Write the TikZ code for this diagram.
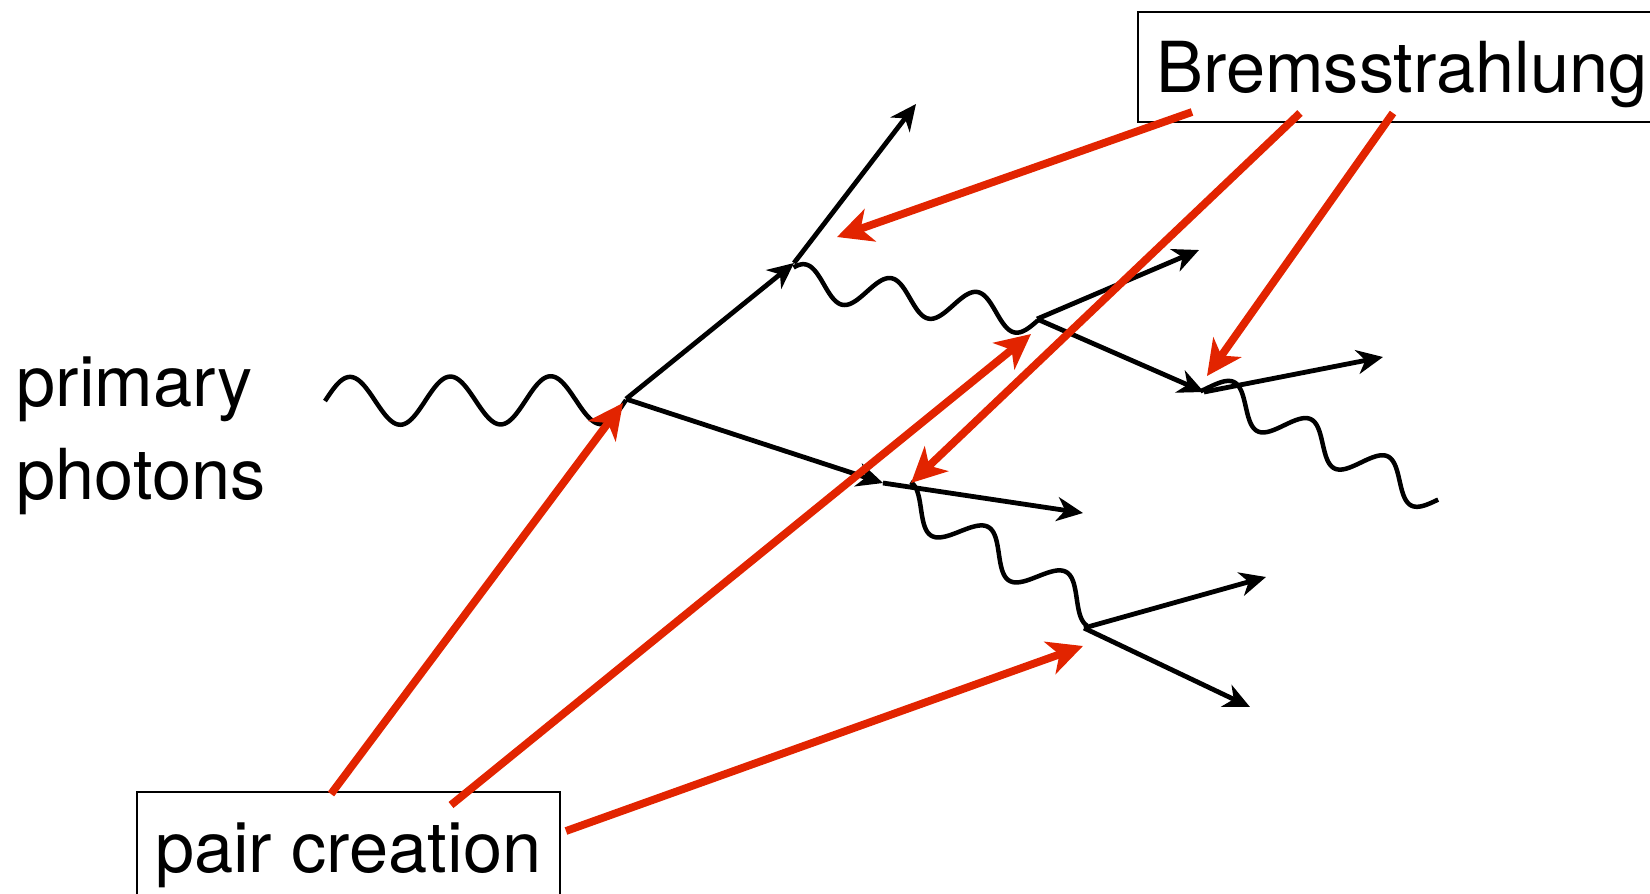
\documentclass[tikz,border=0pt]{standalone}
\usepackage{fontspec}
\setmainfont{TeX Gyre Heros}
\usetikzlibrary{arrows.meta,calc}
\definecolor{redarrow}{RGB}{226,36,0}
% photon: from, to, amplitude (pt), cycles, phase (deg)
\newcommand{\drawphoton}[5]{%
  \draw[photonline] let \p1=($(#2)-(#1)$), \n1={atan2(\y1,\x1)}, \n2={veclen(\x1,\y1)} in
  {[shift={(#1)}, rotate=\n1, x=1pt, y=1pt]
   plot[domain=0:\n2, samples=160, smooth, variable=\wt] (\wt, {#3*sin(#5+360*#4*(\wt/\n2))})};}
\begin{document}
\begin{tikzpicture}[x=0.01cm, y=-0.01cm,
  elec/.style={line width=0.048cm, -{Stealth[length=0.26cm,width=0.24cm,inset=0.08cm]}},
  photonline/.style={line width=0.045cm},
  redarr/.style={color=redarrow, line width=0.078cm, -{Stealth[length=0.35cm,width=0.34cm,inset=0.1cm]}},
  labelbox/.style={draw, line width=0.02cm, inner xsep=0.185cm, inner ysep=0.3cm, text height=0.5cm, text depth=0cm, font=\fontsize{20pt}{24pt}\selectfont},
]
\useasboundingbox (0,0) rectangle (1650,893);
\clip (0,0) rectangle (1650,893);

% labels
\node[labelbox, anchor=base west] (brems) at (1137,92) {Bremsstrahlung};
\node[labelbox, anchor=base west] (pair) at (135.5,872) {pair creation};
\node[font=\fontsize{20pt}{26.5pt}\selectfont, align=left, inner sep=0pt, anchor=west] (primary) at (16,436) {primary\\photons};

% vertices and free ends
\coordinate (V1) at (626,399);
\coordinate (V2) at (794,263);
\coordinate (T2) at (916,104);
\coordinate (V3) at (883,483);
\coordinate (T4) at (1083,513);
\coordinate (V4) at (1037,319);
\coordinate (T5) at (1199,250);
\coordinate (V6) at (1204,392);
\coordinate (T7) at (1383,357);
\coordinate (V5) at (1084,628);
\coordinate (T8) at (1266,577);
\coordinate (T9) at (1250,707);

% photon centre lines
\coordinate (w0a) at (325,401);     \coordinate (w0b) at (626,400);
\coordinate (w1a) at (791.7,279.4); \coordinate (w1b) at (1038,319);
\coordinate (w2a) at (901.5,497.7); \coordinate (w2b) at (1096.4,610.2);
\coordinate (w3a) at (1203,386);    \coordinate (w3b) at (1438.3,499.7);

% photons
\drawphoton{w0a}{w0b}{6.83}{3}{0}
\drawphoton{w1a}{w1b}{4.84}{2.861}{45}
\drawphoton{w2a}{w2b}{5.12}{2.5}{90}
\drawphoton{w3a}{w3b}{4.84}{3.056}{-20}

% electrons / positrons
\draw[elec] (V1) -- (V2);
\draw[elec] (V2) -- (T2);
\draw[elec] (V1) -- (V3);
\draw[elec] (V3) -- (T4);
\draw[elec] (V4) -- (T5);
\draw[elec] (V4) -- (V6);
\draw[elec] (V6) -- (T7);
\draw[elec] (V5) -- (T8);
\draw[elec] (V5) -- (T9);

% red pointer arrows
\coordinate (b1) at (1192,112);
\coordinate (b2) at (1300,113);
\coordinate (b3) at (1393,113);
\coordinate (p1) at (331,794);
\coordinate (p2) at (451,805);
\coordinate (p3) at (566,831);
\coordinate (r1t) at (837,237);
\coordinate (r2t) at (911,483);
\coordinate (r3t) at (1207,376);
\coordinate (r4t) at (623,403);
\coordinate (r5t) at (1031,334);
\coordinate (r6t) at (1083,646);

\draw[redarr] (b1) -- (r1t);
\draw[redarr] (b2) -- (r2t);
\draw[redarr] (b3) -- (r3t);
\draw[redarr] (p1) -- (r4t);
\draw[redarr] (p2) -- (r5t);
\draw[redarr] (p3) -- (r6t);
\end{tikzpicture}
\end{document}
